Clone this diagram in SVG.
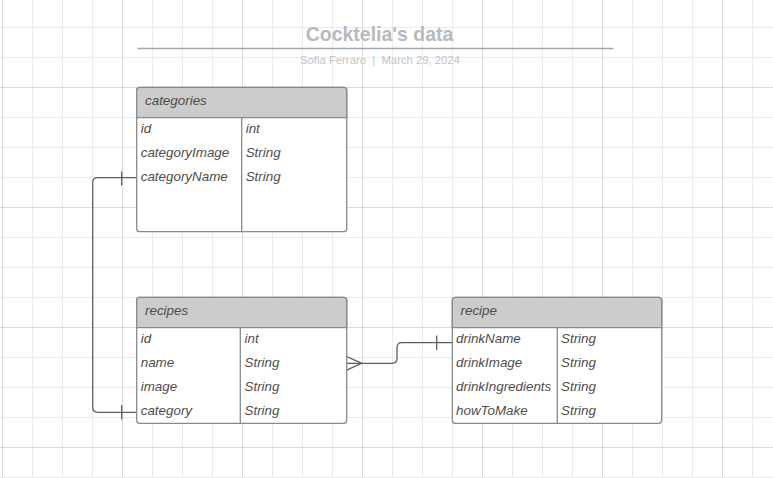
<svg xmlns="http://www.w3.org/2000/svg" width="773" height="478" viewBox="0 0 773 478">
<style>
.minor{stroke:#ebebeb;stroke-width:1}
.major{stroke:#dcdcdc;stroke-width:1}
.box{fill:#ffffff;stroke:#8a8a8a;stroke-width:1.3}
.head{fill:#cccccc;stroke:#8a8a8a;stroke-width:1.3}
.div{stroke:#8a8a8a;stroke-width:1.3}
.t{font-family:"Liberation Sans",Arial,sans-serif;font-style:italic;font-size:13.4px;fill:#4d4d4d}
.conn{fill:none;stroke:#5e5e5e;stroke-width:1.3}
.title{font-family:"Liberation Sans",Arial,sans-serif;font-weight:bold;font-size:19.5px;fill:#b7b9be}
.sub{font-family:"Liberation Sans",Arial,sans-serif;font-size:11.3px;fill:#c3c4c7;white-space:pre}
</style>
<rect width="773" height="478" fill="#ffffff"/>
<g id="grid">
<path class="minor" d="M32.5,0V478M62.5,0V478M92.5,0V478M152.5,0V478M182.5,0V478M212.5,0V478M272.5,0V478M302.5,0V478M332.5,0V478M392.5,0V478M422.5,0V478M452.5,0V478M512.5,0V478M542.5,0V478M572.5,0V478M632.5,0V478M662.5,0V478M692.5,0V478M752.5,0V478"/>
<path class="minor" d="M0,27.5H773M0,57.5H773M0,117.5H773M0,147.5H773M0,177.5H773M0,237.5H773M0,267.5H773M0,297.5H773M0,357.5H773M0,387.5H773M0,417.5H773M0,477.5H773"/>
<path class="major" d="M2.5,0V478M122.5,0V478M242.5,0V478M362.5,0V478M482.5,0V478M602.5,0V478M722.5,0V478M0,87.5H773M0,207.5H773M0,327.5H773M0,447.5H773"/>
</g>
<g id="title">
<text class="title" x="379.5" y="41" text-anchor="middle">Cocktelia's data</text>
<line x1="137.5" y1="48.5" x2="613.5" y2="48.5" stroke="#a3a6ad" stroke-width="1.3"/>
<text class="sub" x="380" y="63.5" text-anchor="middle">Sofia Ferraro  |  March 29, 2024</text>
</g>
<g id="connectors">
<path class="conn" d="M136.7,177.7H97.7Q92.7,177.7 92.7,182.7V407.3Q92.7,412.3 97.7,412.3H136.7"/>
<path class="conn" d="M121.7,171.5V185.5M121.7,405V419.5"/>
<path class="conn" d="M346.7,363.3H392Q397,363.3 397,358.3V347.7Q397,342.7 402,342.7H452.3"/>
<path class="conn" d="M346.7,356.5L361.7,363.3L346.7,370.2"/>
<path class="conn" d="M436.7,335.5V350"/>
</g>
<g id="categories">
<rect class="box" x="136.7" y="87.3" width="210" height="144.4" rx="3"/>
<path class="head" d="M136.7,117.7V90.3Q136.7,87.3 139.7,87.3H343.7Q346.7,87.3 346.7,90.3V117.7Z"/>
<line class="div" x1="241.7" y1="117.7" x2="241.7" y2="231.7"/>
<text class="t" x="145" y="105">categories</text>
<text class="t" x="140.7" y="132.7">id</text>
<text class="t" x="245.7" y="132.7">int</text>
<text class="t" x="140.7" y="156.7">categoryImage</text>
<text class="t" x="245.7" y="156.7">String</text>
<text class="t" x="140.7" y="180.7">categoryName</text>
<text class="t" x="245.7" y="180.7">String</text>
</g>
<g id="recipes">
<rect class="box" x="136.7" y="297.3" width="210" height="126" rx="3"/>
<path class="head" d="M136.7,327.7V300.3Q136.7,297.3 139.7,297.3H343.7Q346.7,297.3 346.7,300.3V327.7Z"/>
<line class="div" x1="240.3" y1="327.7" x2="240.3" y2="423.3"/>
<text class="t" x="145" y="315">recipes</text>
<text class="t" x="140.7" y="342.7">id</text>
<text class="t" x="244.5" y="342.7">int</text>
<text class="t" x="140.7" y="366.7">name</text>
<text class="t" x="244.5" y="366.7">String</text>
<text class="t" x="140.7" y="390.7">image</text>
<text class="t" x="244.5" y="390.7">String</text>
<text class="t" x="140.7" y="414.7">category</text>
<text class="t" x="244.5" y="414.7">String</text>
</g>
<g id="recipe">
<rect class="box" x="452.3" y="297.3" width="209.4" height="126" rx="3"/>
<path class="head" d="M452.3,327.7V300.3Q452.3,297.3 455.3,297.3H658.7Q661.7,297.3 661.7,300.3V327.7Z"/>
<line class="div" x1="557.3" y1="327.7" x2="557.3" y2="423.3"/>
<text class="t" x="460.5" y="315">recipe</text>
<text class="t" x="456" y="342.7">drinkName</text>
<text class="t" x="561" y="342.7">String</text>
<text class="t" x="456" y="366.7">drinkImage</text>
<text class="t" x="561" y="366.7">String</text>
<text class="t" x="456" y="390.7">drinkIngredients</text>
<text class="t" x="561" y="390.7">String</text>
<text class="t" x="456" y="414.7">howToMake</text>
<text class="t" x="561" y="414.7">String</text>
</g>
</svg>
